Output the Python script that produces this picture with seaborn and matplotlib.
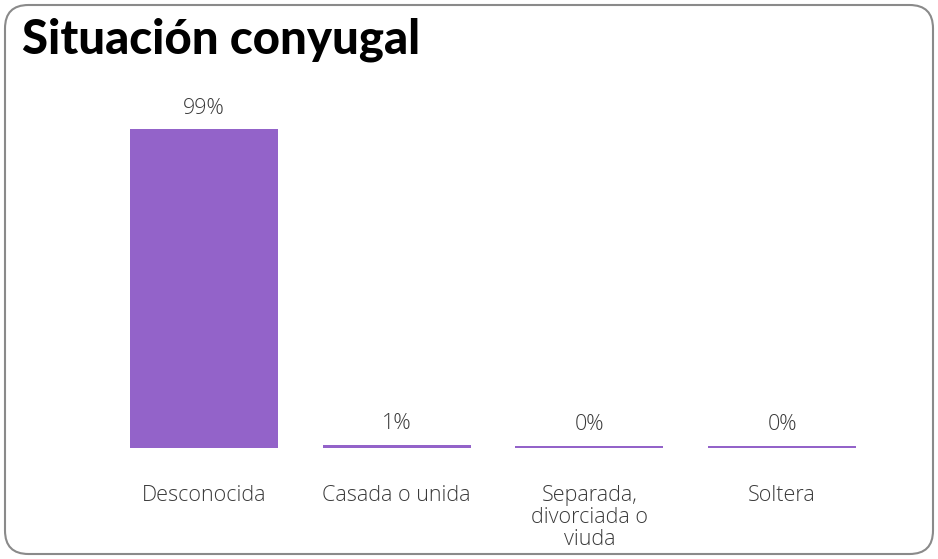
import matplotlib
matplotlib.use("Agg")
import matplotlib.pyplot as plt
import seaborn as sns
import pandas as pd
from matplotlib.patches import FancyBboxPatch

# data
categories = ["Desconocida", "Casada o unida", "Separada,\ndivorciada o\nviuda", "Soltera"]
values = [99, 1, 0, 0]
value_labels = ["99%", "1%", "0%", "0%"]

sns.set_theme(style="white")
plt.rcParams["font.family"] = ["Open Sans", "DejaVu Sans"]

df = pd.DataFrame({"cat": categories, "val": values})
# tiny bars still shown as a thin line, like the original
df["shown"] = df["val"].clip(lower=0.7)

W, H = 938, 559
fig = plt.figure(figsize=(W / 100, H / 100), dpi=100)

# rounded frame
frame = FancyBboxPatch((5 / W, 5 / H), (W - 10) / W, (H - 10) / H,
                       boxstyle="round,pad=0,rounding_size=0.025",
                       transform=fig.transFigure, facecolor="none",
                       edgecolor="#8a8a8a", linewidth=1.5,
                       mutation_aspect=W / H, zorder=-1)
fig.patches.append(frame)

ax = fig.add_axes([107.5 / W, (H - 448) / H, 771 / W, 354.4 / H])
ax.set_facecolor("none")
sns.barplot(data=df, x="cat", y="shown", color="#9363c9", width=0.767,
            saturation=1, linewidth=0, ax=ax)

ax.set_xlim(-0.5, 3.5)
ax.set_ylim(0, 110)
for i, (v, lab) in enumerate(zip(df["shown"], value_labels)):
    ax.annotate(lab, (i, v), xytext=(0, 21), textcoords="offset pixels",
                ha="center", va="center", fontsize=15.5, color="#3a3a3a",
                fontweight=300)

ax.set_xlabel("")
ax.set_ylabel("")
ax.set_yticks([])
ax.tick_params(axis="x", length=0, pad=26.5)
for t in ax.get_xticklabels():
    t.set_fontsize(15.5)
    t.set_color("#3a3a3a")
    t.set_fontweight(300)
    t.set_linespacing(1.07)
    t.set_verticalalignment("top")
sns.despine(ax=ax, left=True, bottom=True)

fig.text(22 / W, 1 - 40 / H, "Situación conyugal", fontsize=34,
         fontweight="black", color="black", va="center", ha="left",
         family=["Lato", "DejaVu Sans"])

fig.savefig("out.png", dpi=100)
